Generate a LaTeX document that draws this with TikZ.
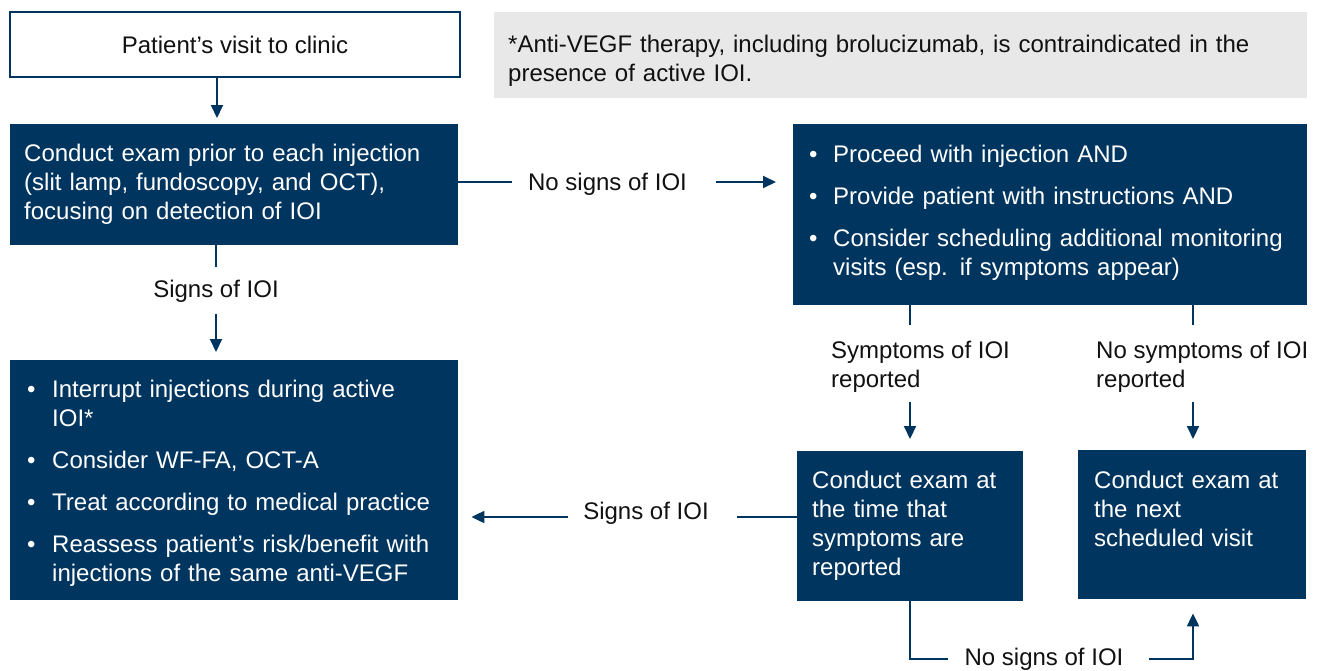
\documentclass[tikz,border=0pt]{standalone}
\usepackage{fontspec}
\setmainfont{Liberation Sans}
\usetikzlibrary{arrows.meta,calc}
\definecolor{navy}{HTML}{00355F}
\definecolor{notegray}{HTML}{E8E8E8}
\definecolor{ink}{HTML}{111111}
\begin{document}
\begin{tikzpicture}[x=1pt,y=-1pt,
  font=\fontsize{24}{29}\selectfont,
  navybox/.style={fill=navy,text=white,anchor=north west,align=left,inner ysep=2pt},
  whitebox/.style={fill=white,draw=navy,line width=2pt,text=ink,inner sep=2pt},
  notebox/.style={fill=notegray,text=ink,anchor=north west,align=left,inner ysep=2pt},
  lbl/.style={text=ink,inner sep=0pt},
  conn/.style={draw=navy,line width=2pt},
  arr/.style={conn,-{Triangle[width=12pt,length=13pt]}}]
\useasboundingbox (0,0) rectangle (1325,670);
% boxes
\node[whitebox,minimum width=450pt,minimum height=65pt] (visit) at (235,44.5) {Patient’s visit to clinic};
\node[notebox,minimum width=813pt,minimum height=86pt,inner xsep=14pt,text width=785pt] (note) at (494,12)
  {\mbox{}\\[-1pt]*Anti-VEGF therapy, including brolucizumab, is contraindicated in the\\presence of active IOI.};
\node[navybox,minimum height=121pt,inner xsep=14pt,text width=420pt] (exam) at (10,124)
  {Conduct exam prior to each injection\\(slit lamp, fundoscopy, and OCT),\\focusing on detection of IOI};
\node[navybox,minimum height=181pt,inner xsep=16pt,text width=482pt] (right) at (793,124)
  {\begin{tabular}{@{}p{24pt}@{}l@{}}
   \textbullet & Proceed with injection AND\\[13pt]
   \textbullet & Provide patient with instructions AND\\[13pt]
   \textbullet & Consider scheduling additional monitoring\\
               & visits (esp. if symptoms appear)
   \end{tabular}\\[2pt]\mbox{}};
\node[navybox,minimum height=240pt,inner xsep=17pt,text width=414pt] (leftb) at (10,360)
  {\mbox{}\\[5pt]\begin{tabular}{@{}p{25pt}@{}l@{}}
   \textbullet & Interrupt injections during active\\
               & IOI*\\[13pt]
   \textbullet & Consider WF-FA, OCT-A\\[13pt]
   \textbullet & Treat according to medical practice\\[13pt]
   \textbullet & Reassess patient’s risk/benefit with\\
               & injections of the same anti-VEGF
   \end{tabular}};
\node[navybox,minimum height=150pt,inner xsep=15pt,text width=196pt] (sym) at (797,451)
  {Conduct exam at\\the time that\\symptoms are\\reported};
\node[navybox,minimum height=149pt,inner xsep=16pt,text width=196pt] (next) at (1078,450)
  {Conduct exam at\\the next\\scheduled visit\\[2pt]\mbox{}};
% labels
\node[lbl] (l1) at (607.5,184) {No signs of IOI};
\node[lbl] (l2) at (216,291) {Signs of IOI};
\node[lbl,anchor=west,align=left] (l3) at (831,367) {Symptoms of IOI\\reported};
\node[lbl,anchor=west,align=left] (l4) at (1096,367) {No symptoms of IOI\\reported};
\node[lbl] (l5) at (646,513) {Signs of IOI};
\node[lbl] (l6) at (1044,659) {No signs of IOI};
% helper coordinates
\coordinate (c1) at (217,0);
\coordinate (s1) at (910,364);
\coordinate (s2) at (1193,364);
\coordinate (h1) at (646,517);
\coordinate (b1) at (1044,659);
\coordinate (r1) at (0,182);
% connectors
\draw[arr,shorten >=6pt] (visit.south -| c1) -- (exam.north -| c1);
\draw[conn] (exam.east |- r1) -- ([xshift=-16pt]l1.west |- r1);
\draw[arr,shorten >=17pt] ([xshift=29pt]l1.east |- r1) -- (right.west |- r1);
\draw[conn] (exam.south -| l2) -- ([yshift=24pt]l2.center);
\draw[arr,shorten >=8pt] ([yshift=-23pt]l2.center) -- (leftb.north -| l2);
\draw[conn] (right.south -| s1) -- ([yshift=39pt]s1);
\draw[arr,shorten >=12pt] ([yshift=-38pt]s1) -- (sym.north -| s1);
\draw[conn] (right.south -| s2) -- ([yshift=39pt]s2);
\draw[arr,shorten >=11pt] ([yshift=-38pt]s2) -- (next.north -| s2);
\draw[conn] (sym.west |- h1) -- ([xshift=91pt]h1);
\draw[arr,shorten >=13pt] ([xshift=-78pt]h1) -- (leftb.east |- h1);
\draw[conn] (sym.south -| s1) |- ([xshift=-96pt]b1);
\draw[arr,shorten >=14pt] ([xshift=105pt]b1) -| (next.south -| s2);
\end{tikzpicture}
\end{document}
